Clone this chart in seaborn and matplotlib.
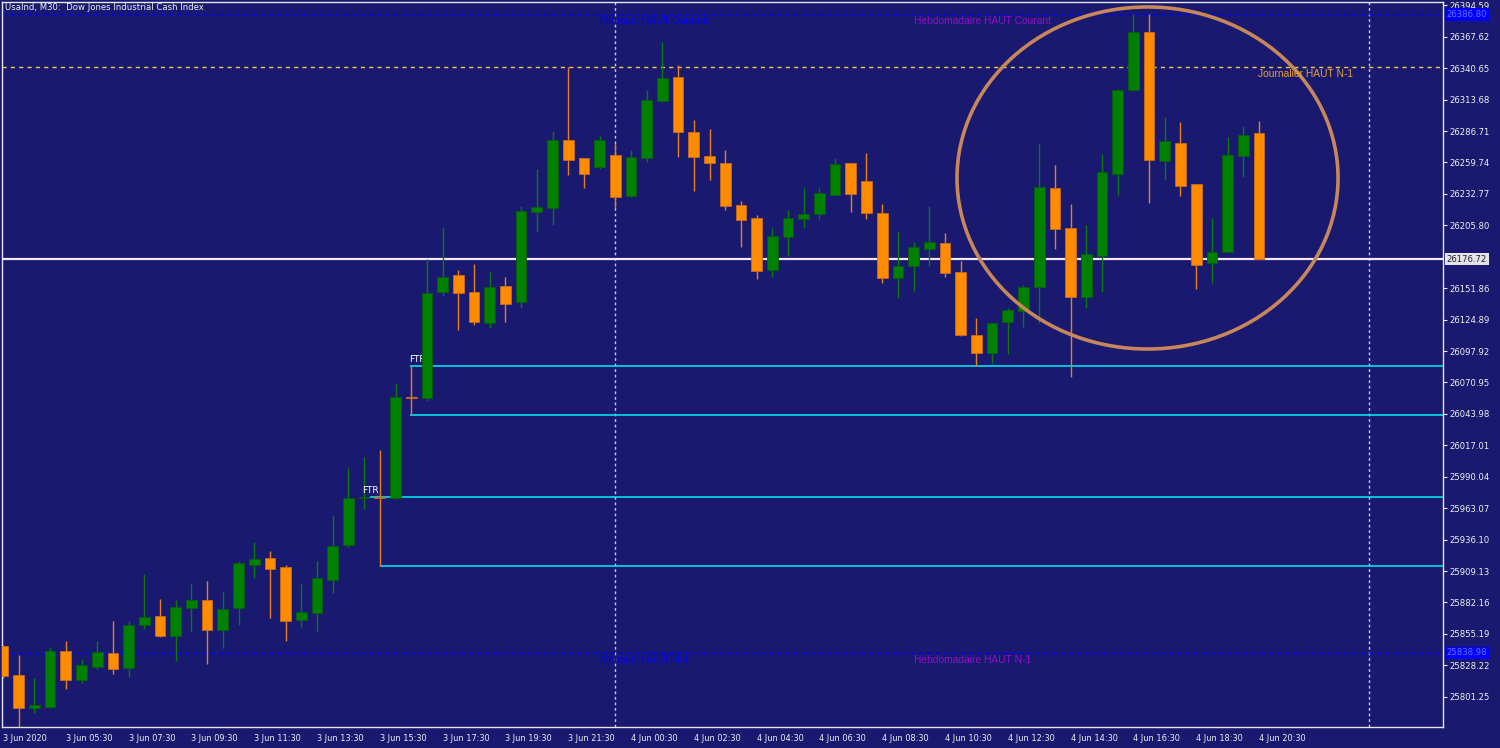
import numpy as np
import pandas as pd
import seaborn as sns
import matplotlib.pyplot as plt
import matplotlib.transforms as mtransforms
from matplotlib.patches import Ellipse

bg = '#191970'
sns.set_style("dark", rc={"axes.facecolor": bg, "figure.facecolor": bg, "axes.grid": False})
plt.rcParams['font.family'] = ['DejaVu Sans']

# UsaInd M30 candles, 3 Jun 2020 03:30 -> 4 Jun 20:30
opens = [25844.81, 25819.92, 25791.61, 25792.46, 25840.52, 25815.63, 25826.79, 25838.80, 25825.93, 25862.83,
         25870.55, 25853.39, 25877.42, 25884.28, 25858.54, 25877.42, 25914.31, 25920.32, 25912.60, 25867.12,
         25873.12, 25901.44, 25931.48, 25971.81, 25972.66, 25971.81, 26058.47, 26057.62, 26148.57, 26163.16,
         26148.57, 26121.97, 26153.72, 26139.99, 26217.22, 26220.66, 26279.01, 26263.56, 26255.84, 26266.13,
         26230.95, 26263.56, 26312.47, 26333.07, 26285.87, 26265.28, 26259.27, 26223.23, 26212.07, 26167.45,
         26195.77, 26211.22, 26215.51, 26231.81, 26259.27, 26243.82, 26216.36, 26160.59, 26170.89, 26185.47,
         26190.62, 26165.74, 26111.68, 26096.23, 26122.83, 26132.27, 26152.87, 26237.82, 26203.49, 26144.28,
         26179.47, 26249.83, 26321.91, 26371.68, 26260.99, 26276.43, 26241.25, 26173.46, 26182.90, 26265.28,
         26285.01]
highs = [25845.67, 25837.08, 25817.35, 25843.95, 25849.10, 25833.65, 25849.10, 25866.26, 25866.26, 25906.59,
         25885.14, 25884.28, 25898.87, 25900.58, 25892.00, 25917.75, 25934.05, 25926.33, 25914.31, 25898.01,
         25917.75, 25957.22, 25997.55, 26006.99, 26012.99, 26069.63, 26085.08, 26176.89, 26204.35, 26167.45,
         26172.60, 26165.74, 26161.45, 26222.37, 26254.12, 26286.73, 26341.65, 26263.56, 26282.44, 26276.43,
         26270.42, 26321.91, 26363.10, 26343.36, 26296.17, 26288.45, 26270.42, 26226.66, 26214.65, 26203.49,
         26218.94, 26237.82, 26237.82, 26263.56, 26259.27, 26267.85, 26224.09, 26200.92, 26191.48, 26222.37,
         26199.20, 26175.18, 26126.26, 26121.97, 26134.85, 26154.58, 26276.43, 26257.55, 26224.09, 26206.07,
         26266.99, 26322.77, 26386.80, 26386.80, 26298.74, 26294.45, 26241.25, 26212.07, 26281.58, 26291.02,
         26295.31]
lows = [25817.35, 25772.73, 25787.31, 25791.61, 25807.91, 25813.06, 25825.07, 25820.78, 25818.21, 25859.40,
        25852.53, 25831.94, 25856.82, 25829.36, 25843.09, 25862.83, 25903.16, 25868.83, 25849.10, 25861.11,
        25857.68, 25890.29, 25929.76, 25962.37, 25913.46, 25970.95, 26043.03, 26055.04, 26145.14, 26115.97,
        26120.26, 26117.68, 26122.83, 26134.85, 26200.06, 26206.07, 26248.97, 26237.82, 26254.12, 26220.66,
        26230.09, 26260.13, 26311.61, 26264.42, 26235.24, 26244.68, 26218.94, 26187.19, 26159.73, 26161.45,
        26179.47, 26203.49, 26211.22, 26231.81, 26217.22, 26211.22, 26156.30, 26143.43, 26149.43, 26170.89,
        26161.45, 26110.82, 26085.08, 26087.65, 26095.37, 26118.54, 26121.97, 26185.47, 26075.64, 26134.85,
        26148.57, 26231.81, 26321.05, 26224.95, 26244.68, 26230.95, 26151.15, 26156.30, 26182.90, 26247.26,
        26176.72]
closes = [25819.06, 25791.61, 25794.18, 25840.52, 25815.63, 25828.50, 25839.66, 25825.07, 25862.83, 25869.69,
          25853.39, 25878.27, 25884.28, 25858.54, 25876.56, 25916.03, 25919.46, 25910.88, 25866.26, 25873.98,
          25903.16, 25930.62, 25971.81, 25972.66, 25971.81, 26058.47, 26057.62, 26147.72, 26161.45, 26147.72,
          26122.83, 26152.87, 26138.28, 26218.08, 26221.51, 26279.01, 26261.84, 26249.83, 26279.01, 26230.09,
          26264.42, 26313.33, 26332.21, 26285.87, 26264.42, 26259.27, 26222.37, 26210.36, 26166.59, 26196.63,
          26212.07, 26215.51, 26233.53, 26258.41, 26232.67, 26216.36, 26160.59, 26170.89, 26187.19, 26191.48,
          26164.88, 26111.68, 26096.23, 26121.97, 26133.13, 26152.87, 26238.68, 26202.64, 26144.28, 26181.18,
          26251.55, 26321.91, 26371.68, 26261.84, 26278.15, 26239.53, 26171.74, 26182.90, 26266.13, 26283.30,
          26176.72]

# time axis labels (every 4 bars)
time_labels = ['3 Jun 2020', '3 Jun 05:30', '3 Jun 07:30', '3 Jun 09:30', '3 Jun 11:30', '3 Jun 13:30',
               '3 Jun 15:30', '3 Jun 17:30', '3 Jun 19:30', '3 Jun 21:30', '4 Jun 00:30', '4 Jun 02:30',
               '4 Jun 04:30', '4 Jun 06:30', '4 Jun 08:30', '4 Jun 10:30', '4 Jun 12:30', '4 Jun 14:30',
               '4 Jun 16:30', '4 Jun 18:30', '4 Jun 20:30']
time_ticks = list(range(0, 81, 4))

price_tick_labels = ['26394.59', '26367.62', '26340.65', '26313.68', '26286.71', '26259.74', '26232.77',
                     '26205.80', '26151.86', '26124.89', '26097.92', '26070.95', '26043.98', '26017.01',
                     '25990.04', '25963.07', '25936.10', '25909.13', '25882.16', '25855.19', '25828.22',
                     '25801.25']
price_ticks = [float(s) for s in price_tick_labels]

# levels
haut_courant = 26386.80      # mensuel = hebdomadaire
haut_n1 = 25838.98           # mensuel = hebdomadaire N-1
journalier_n1 = 26341.39
bid = 26176.72
# FTR zones: (start bar, top, bottom)
zones = [(23.4, 25972.66, 25913.46), (25.95, 26085.08, 26043.03)]
day_separators = [39, 87]

df = pd.DataFrame({'open': opens, 'high': highs, 'low': lows, 'close': closes})
df['idx'] = np.arange(len(df))
df['bull'] = df['close'] > df['open']

fig = plt.figure(figsize=(15, 7.48), dpi=100)
ax = fig.add_axes([2 / 1500, 21 / 748, 1441 / 1500, 725 / 748])
ax.set_facecolor(bg)
ax.set_xlim(-0.064, 91.72)
ax.set_ylim(25775.30, 26397.42)

for xs in day_separators:
    ax.axvline(xs, color='#c8c8e8', lw=1, ls=(0, (2, 2)), zorder=1)

ax.axhline(haut_courant, color='#0000ff', lw=1, ls=(0, (3, 3)), zorder=1.5)
ax.axhline(haut_n1, color='#0000ff', lw=1, ls=(0, (3, 3)), zorder=1.5)
ax.axhline(journalier_n1, color='#f0c850', lw=1, ls=(0, (3, 3)), zorder=1.5)
ax.axhline(bid, color='#f4e6ee', lw=1.6, zorder=1.5)
for start, top, bot in zones:
    ax.hlines([top], start, 91.72, color='#00e0ee', lw=1.2, zorder=1.5)
    ax.hlines([bot], start if start > 25 else 24, 91.72, color='#00e0ee', lw=1.2, zorder=1.5)

# candles
wick_col = np.where(df['bull'], '#0a7a0a', '#e6801e')
body_col = np.where(df['bull'], '#008000', '#ff8c00')
edge_col = np.where(df['bull'], '#0a5c0a', '#c86a1a')
ax.vlines(df['idx'], df['low'], df['high'], colors=wick_col, lw=1, zorder=2)
body_bottom = df[['open', 'close']].min(axis=1)
body_h = np.maximum((df['close'] - df['open']).abs(), 1.0)
ax.bar(df['idx'], body_h, bottom=body_bottom, width=0.68, color=body_col,
       edgecolor=edge_col, linewidth=0.6, zorder=3)

ax.add_patch(Ellipse((72.9, 26246.4), 24.27, 293.5, fill=False, edgecolor='#c8875a', lw=2.6, zorder=4))

# text labels of levels
lvl_font = dict(family=['Liberation Sans', 'DejaVu Sans'], fontsize=7.4, va='top', ha='left', zorder=5)
ax.annotate('Mensuel HAUT Courant', (38, haut_courant), xytext=(0, -1.5), textcoords='offset points',
            color='#0000ff', **lvl_font)
ax.annotate('Hebdomadaire HAUT Courant', (58, haut_courant), xytext=(0, -1.5), textcoords='offset points',
            color='#9010c8', **lvl_font)
ax.annotate('Mensuel HAUT N-1', (38, haut_n1), xytext=(0, -1.5), textcoords='offset points',
            color='#0000ff', **lvl_font)
ax.annotate('Hebdomadaire HAUT N-1', (58, haut_n1), xytext=(0, -1.5), textcoords='offset points',
            color='#9010c8', **lvl_font)
ax.annotate('Journalier HAUT N-1', (79.95, journalier_n1), xytext=(0, -1.5), textcoords='offset points',
            color='#e8a030', **lvl_font)
ax.annotate('FTR', (22.9, zones[0][1]), xytext=(0, 1.5), textcoords='offset points', color='white',
            fontsize=6.5, va='bottom', ha='left', zorder=2.5)
ax.annotate('FTR', (25.85, zones[1][1]), xytext=(0, 1.5), textcoords='offset points', color='white',
            fontsize=6.5, va='bottom', ha='left', zorder=2.5)

# axes styling
for sp in ax.spines.values():
    sp.set_color('#e6e6e6')
    sp.set_linewidth(1)
    sp.set_visible(True)

ax.yaxis.tick_right()
ax.set_yticks(price_ticks)
ax.set_yticklabels(price_tick_labels)
ax.tick_params(axis='y', direction='out', length=3, width=0.8, color='#e6e6e6',
               labelcolor='#f0f0f0', labelsize=6.1, pad=1.5, left=False, right=True)
ax.set_xticks(time_ticks)
ax.set_xticklabels(time_labels, ha='left')
ax.tick_params(axis='x', direction='out', length=4, width=0.8, color='#e6e6e6',
               labelcolor='#f0f0f0', labelsize=5.9, pad=1)
ax.set_xlabel('')
ax.set_ylabel('')

trans = mtransforms.blended_transform_factory(ax.transAxes, ax.transData)
ax.text(1.0025, haut_courant, '26386.80', transform=trans, ha='left', va='center', fontsize=6.1,
        color='#7070ff', bbox=dict(boxstyle='square,pad=0.2', fc='#0000ff', ec='none'), clip_on=False)
ax.text(1.0025, haut_n1, '25838.98', transform=trans, ha='left', va='center', fontsize=6.1,
        color='#7070ff', bbox=dict(boxstyle='square,pad=0.2', fc='#0000ff', ec='none'), clip_on=False)
ax.text(1.0025, bid, '26176.72', transform=trans, ha='left', va='center', fontsize=6.1,
        color='#202040', bbox=dict(boxstyle='square,pad=0.2', fc='#e4e4e4', ec='none'), clip_on=False)

fig.text(5 / 1500, 1 - 8 / 748, 'UsaInd, M30:  Dow Jones Industrial Cash Index', color='#f0f0f0',
         fontsize=6.1, ha='left', va='center')

fig.savefig('out.png', dpi=100, facecolor=bg)
